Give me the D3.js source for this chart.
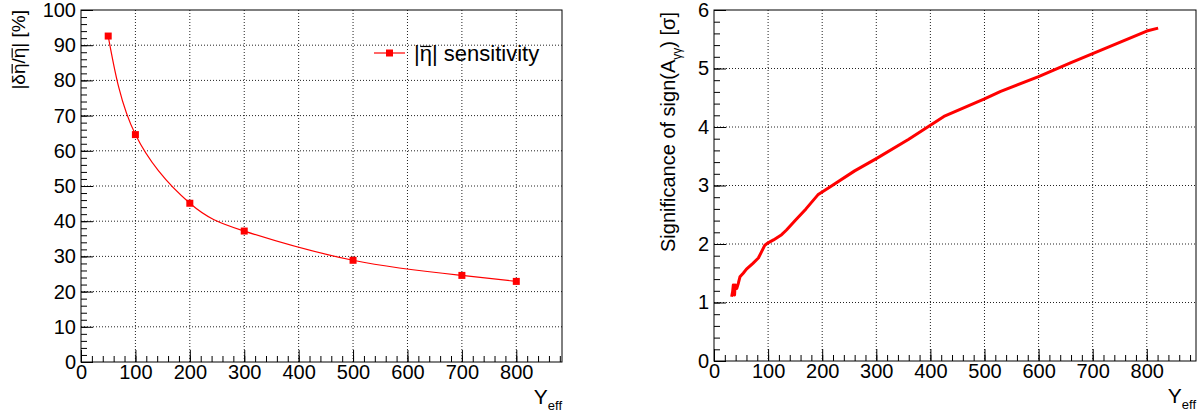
<!DOCTYPE html>
<html>
<head>
<meta charset="utf-8">
<script src="https://cdn.jsdelivr.net/npm/d3@7"></script>
<style>
  html, body { margin: 0; padding: 0; background: #fff; }
  svg { display: block; font-family: "Liberation Sans", Arial, Helvetica, sans-serif; }
  .grid line { stroke: #222; stroke-dasharray: 1 2; stroke-width: 1; }
  .axis path, .axis line { stroke: #000; }
  .axis text { font-size: 20px; fill: #000; font-family: "Liberation Sans", Arial, sans-serif; }
</style>
</head>
<body>
<svg id="chart" width="1202" height="412"></svg>
<script>
// ---- Left panel data: |eta-bar| sensitivity ----
const leftX = [50, 100, 200, 300, 500, 700, 800];
const leftY = [92.6, 64.6, 45.1, 37.2, 28.9, 24.6, 22.9];
const leftXTicks = [0, 100, 200, 300, 400, 500, 600, 700, 800];
const leftYTicks = [0, 10, 20, 30, 40, 50, 60, 70, 80, 90, 100];

// ---- Right panel data: significance of sign(A_gammagamma) ----
const rightX = [32.7, 34.5, 35.7, 38, 39, 42, 45, 48, 54, 60, 72, 82, 88, 94, 100, 110, 125, 134,
                150, 170, 192, 215, 260, 300, 360, 425, 500, 530, 600, 660, 730, 800, 821];
const rightY = [1.10, 1.19, 1.30, 1.13, 1.30, 1.24, 1.33, 1.44, 1.50, 1.57, 1.67, 1.76, 1.87, 1.98, 2.02, 2.07, 2.16, 2.24,
                2.40, 2.60, 2.84, 2.98, 3.25, 3.46, 3.79, 4.18, 4.48, 4.61, 4.86, 5.10, 5.37, 5.64, 5.69];
const rightXTicks = [0, 100, 200, 300, 400, 500, 600, 700, 800];
const rightYTicks = [0, 1, 2, 3, 4, 5, 6];

const svg = d3.select("#chart");

function panel(opts) {
  const x = d3.scaleLinear().domain(opts.xDomain).range([opts.left, opts.right]);
  const y = d3.scaleLinear().domain(opts.yDomain).range([opts.bottom, opts.top]);
  const g = svg.append("g");

  const grid = g.append("g").attr("class", "grid");
  grid.selectAll("line.gx").data(opts.xTicks.filter(v => v > opts.xDomain[0] && v < opts.xDomain[1]))
    .enter().append("line").attr("x1", d => x(d)).attr("x2", d => x(d))
    .attr("y1", opts.top).attr("y2", opts.bottom);
  grid.selectAll("line.gy").data(opts.yTicks.filter(v => v > opts.yDomain[0] && v < opts.yDomain[1]))
    .enter().append("line").attr("y1", d => y(d)).attr("y2", d => y(d))
    .attr("x1", opts.left).attr("x2", opts.right);

  const xMinor = d3.range(opts.xDomain[0], opts.xDomain[1] + 1e-9, opts.xMinor);
  const yMinor = d3.range(opts.yDomain[0], opts.yDomain[1] + 1e-9, opts.yMinor);
  g.append("g").attr("class", "axis").attr("transform", `translate(0,${opts.bottom})`)
    .call(d3.axisBottom(x).tickValues(xMinor).tickSize(-6).tickFormat(""))
    .call(s => s.select(".domain").remove());
  g.append("g").attr("class", "axis").attr("transform", `translate(${opts.left},0)`)
    .call(d3.axisLeft(y).tickValues(yMinor).tickSize(-6).tickFormat(""))
    .call(s => s.select(".domain").remove());

  const xa = g.append("g").attr("class", "axis").attr("transform", `translate(0,${opts.bottom})`)
    .call(d3.axisBottom(x).tickValues(opts.xTicks).tickSize(-12).tickPadding(3).tickFormat(d3.format("d")));
  xa.select(".domain").remove();
  const ya = g.append("g").attr("class", "axis").attr("transform", `translate(${opts.left},0)`)
    .call(d3.axisLeft(y).tickValues(opts.yTicks).tickSize(-12).tickPadding(5).tickFormat(d3.format("d")));
  ya.select(".domain").remove();
  ya.selectAll("text").attr("x", -5);

  g.append("rect").attr("x", opts.left).attr("y", opts.top)
    .attr("width", opts.right - opts.left).attr("height", opts.bottom - opts.top)
    .attr("fill", "none").attr("stroke", "#000").attr("stroke-width", 1);

  const xt = g.append("text").attr("x", opts.right).attr("y", opts.bottom + 42)
    .attr("text-anchor", "end").attr("font-size", 21).attr("fill", "#000");
  xt.append("tspan").text("Y");
  xt.append("tspan").attr("font-size", 13).attr("dy", 6).text("eff");

  return { g, x, y };
}

// draw an overline above given character indices of a text element, inside parent group
function overline(parent, textSel, indices, fontSize) {
  const node = textSel.node();
  indices.forEach(i => {
    const e = node.getExtentOfChar(i);
    const base = e.y + e.height * 0.905; // approx baseline
    const yy = base - fontSize * 0.78;
    parent.append("line")
      .attr("x1", e.x + 0.5).attr("x2", e.x + e.width - 0.5)
      .attr("y1", yy).attr("y2", yy)
      .attr("stroke", "#000").attr("stroke-width", 1.2);
  });
}

// ---------- Left panel ----------
const L = panel({
  left: 81, right: 562, top: 10, bottom: 362,
  xDomain: [0, 884], yDomain: [0, 100],
  xTicks: leftXTicks, yTicks: leftYTicks, xMinor: 20, yMinor: 2
});
const leftData = leftX.map((v, i) => [v, leftY[i]]);
L.g.append("path").datum(leftData)
  .attr("d", d3.line().x(d => L.x(d[0])).y(d => L.y(d[1])).curve(d3.curveNatural))
  .attr("fill", "none").attr("stroke", "#ff0000").attr("stroke-width", 1.2);
L.g.selectAll("rect.m").data(leftData).enter().append("rect")
  .attr("x", d => L.x(d[0]) - 3.5).attr("y", d => L.y(d[1]) - 3.5)
  .attr("width", 7).attr("height", 7).attr("fill", "#ff0000");

// left y title
const lytG = L.g.append("g").attr("transform", "translate(25,10) rotate(-90)");
const lyt = lytG.append("text").attr("text-anchor", "end").attr("font-size", 19).attr("fill", "#000")
  .text("|δη/η| [%]");
overline(lytG, lyt, [2, 4], 19);

// legend
const lg = L.g.append("g");
lg.append("line").attr("x1", 374).attr("x2", 405).attr("y1", 53).attr("y2", 53)
  .attr("stroke", "#ff0000").attr("stroke-width", 1.2);
lg.append("rect").attr("x", 386).attr("y", 49.5).attr("width", 7).attr("height", 7).attr("fill", "#ff0000");
const lt = lg.append("text").attr("x", 414).attr("y", 61).attr("font-size", 22).attr("fill", "#000")
  .text("|η| sensitivity");
overline(lg, lt, [1], 22);

// ---------- Right panel ----------
const R = panel({
  left: 714, right: 1196, top: 10, bottom: 361,
  xDomain: [0, 891], yDomain: [0, 6],
  xTicks: rightXTicks, yTicks: rightYTicks, xMinor: 20, yMinor: 0.2
});
const rightData = rightX.map((v, i) => [v, rightY[i]]);
R.g.append("path").datum(rightData)
  .attr("d", d3.line().x(d => R.x(d[0])).y(d => R.y(d[1])))
  .attr("fill", "none").attr("stroke", "#ff0000").attr("stroke-width", 3)
  .attr("stroke-linejoin", "round");

const ryt = R.g.append("text").attr("transform", "translate(675,12) rotate(-90)")
  .attr("text-anchor", "end").attr("font-size", 20).attr("fill", "#000");
ryt.append("tspan").text("Significance of sign(A");
ryt.append("tspan").attr("font-size", 12).attr("dy", 6).text("γγ");
ryt.append("tspan").attr("dy", -6).text(") [σ]");
</script>
</body>
</html>
